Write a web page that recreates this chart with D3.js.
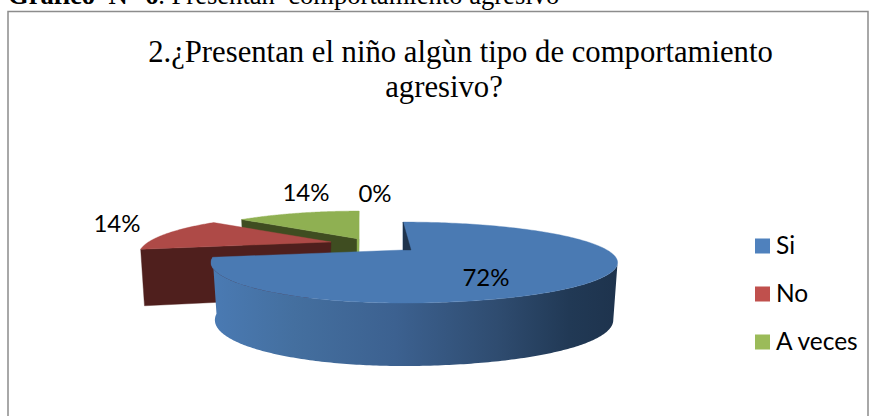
<!DOCTYPE html>
<html><head><meta charset="utf-8">
<script src="https://cdn.jsdelivr.net/npm/d3@7"></script>
<style>html,body{margin:0;padding:0;background:#fff}svg{display:block}</style>
</head><body><svg id="c" width="871" height="416"></svg>
<script>
const categories = ["Si","No","A veces",""];
const values = [72,14,14,0];
const labels = ["72%","14%","14%","0%"];
const topColors = ["#4a7ab3","#ae4a47","#8fb052"];
const sideColors = ["#1e334d","#4f1f1d","#3f4d21"];
const legendColors = ["#4f81bd","#c0504d","#9bbb59"];
const captionBold = "Gráfico  N° 6";
const captionRest = ". Presentan  comportamiento agresivo";
const titleLines = ["2.¿Presentan el niño algùn tipo de comportamiento","agresivo?"];

const svg = d3.select("#c");
const defs = svg.append("defs");
const grad = defs.append("linearGradient").attr("id","wall").attr("gradientUnits","userSpaceOnUse")
  .attr("x1",213).attr("x2",618).attr("y1",0).attr("y2",0);
[[0,"#4a7ab3"],[0.2,"#446f9f"],[0.45,"#3c6190"],[0.7,"#2f4c70"],[0.88,"#213955"],[1,"#1e334d"]]
  .forEach(([o,c])=>grad.append("stop").attr("offset",o).attr("stop-color",c));

// frame + caption
svg.append("path").attr("d","M8,430V11.5H868V430").attr("fill","none").attr("stroke","#8c8c8c").attr("stroke-width",1.5);
const cap = svg.append("text").attr("x",8).attr("y",4).attr("font-family","Liberation Serif").attr("font-size",26.6).attr("fill","#000").style("white-space","pre");
cap.append("tspan").attr("font-weight","bold").text(captionBold);
cap.append("tspan").text(captionRest);

// title
const titleX=[460.5,444];
svg.selectAll("text.t").data(titleLines).join("text").attr("class","t")
  .attr("x",(d,i)=>titleX[i]).attr("y",(d,i)=>62+i*35).attr("text-anchor","middle")
  .attr("font-family","Liberation Serif").attr("font-size",30.7).attr("fill","#000").text(d=>d);

// pie geometry, in clockwise angles from the back of the disc
const pie = d3.pie().sort(null).value(d=>d).startAngle(0).endAngle(2*Math.PI);
const arcs = pie(values);
const K=.31, RY=36.6, RXR=204, RXL=182.5;
const apexes=[[403,250],[331,242],[359,239]];
function proj(ax,ap){
  const u=Math.sin(ax), v=-Math.cos(ax), w=1-K*v;
  return [ap[0]+(u>0?RXR:RXL)*u/w, ap[1]+RY*v/w];
}
function low(ax,ap){
  const p=proj(ax,ap), v=-Math.cos(ax);
  return [ap[0]+(p[0]-ap[0])*.98, p[1]+55+8*v];
}
const samples=(a,b,n=90)=>d3.range(n+1).map(i=>a+(b-a)*i/n);
const line=d3.line();
const g=svg.append("g");
function poly(pts,fill){ g.append("path").attr("d",line(pts)+"Z").attr("fill",fill).attr("stroke",fill).attr("stroke-width",.4); }

// green, red: cut faces then top; blue: wall then top
[2,1].forEach(i=>{
  const a=arcs[i], ap=apexes[i], e0=proj(a.startAngle,ap), e1=proj(a.endAngle,ap);
  const apLow=[ap[0]-2,ap[1]+55];
  poly([e0,ap,apLow,low(a.startAngle,ap)],sideColors[i]);
  poly([ap,...samples(a.startAngle,a.endAngle).map(t=>proj(t,ap))],topColors[i]);
  if(i===2) poly([e1,[ap[0]-2,ap[1]],[ap[0]-2,apLow[1]],[ap[0],apLow[1]]],topColors[i]);
});
{
  const a=arcs[0], ap=apexes[0], ts=samples(a.startAngle,a.endAngle,200);
  const wall=samples(Math.acos(-K),a.endAngle,200);
  g.append("path").attr("d",line([...wall.map(t=>proj(t,ap)),...wall.slice().reverse().map(t=>low(t,ap))])+"Z").attr("fill","url(#wall)");
  poly([ap,...ts.map(t=>proj(t,ap))],topColors[0]);
  // inner notch face
  poly([proj(a.startAngle,ap),ap,[ap[0]+8,ap[1]]],sideColors[0]);
}

// data labels
const lp=[[486,280],[117,226],[306,195],[375,196]];
svg.selectAll("text.l").data(labels).join("text").attr("class","l")
  .attr("x",(d,i)=>lp[i][0]).attr("y",(d,i)=>lp[i][1]).attr("text-anchor","middle").attr("dominant-baseline","middle")
  .attr("font-family","Lato").attr("font-size",24).attr("fill","#000").text(d=>d);

// legend
const ly=d3.scalePoint().domain(categories.slice(0,3)).range([246,342]);
const lg=svg.selectAll("g.lg").data(categories.slice(0,3)).join("g").attr("class","lg").attr("transform",d=>`translate(755,${ly(d)})`);
lg.append("rect").attr("x",0).attr("y",-7.5).attr("width",15).attr("height",15).attr("fill",(d,i)=>legendColors[i]);
lg.append("text").attr("x",21).attr("y",8).attr("font-family","Lato").attr("font-size",24.5).attr("fill","#000").text(d=>d);
</script></body></html>
